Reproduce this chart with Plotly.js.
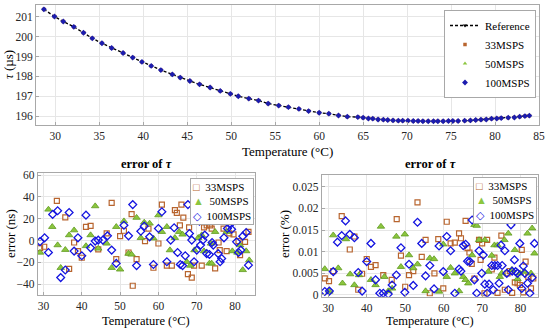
<!DOCTYPE html>
<html><head><meta charset="utf-8">
<script src="https://cdn.plot.ly/plotly-3.0.1.min.js"></script>
<style>html,body{margin:0;padding:0;background:#fff}#chart{width:550px;height:332px}</style>
</head><body><div id="chart"></div>
<script>
// ---- top chart: tau vs temperature ----
const tRef=[28.7,29.9,30.9,32.1,33.2,34.2,35.3,36.4,37.7,38.8,39.85,40.9,42.0,43.3,44.2,45.3,46.4,47.6,48.75,49.9,50.8,52.0,53.1,54.2,55.4,56.5,57.7,58.8,60.0,61.1,62.2,63.2,64.4,65.0,65.6,66.1,66.7,67.3,67.8,68.4,69.0,69.5,70.1,70.7,71.25,71.8,72.4,73.0,73.5,74.1,74.7,75.2,75.8,76.55,77.2,77.8,78.4,79.0,79.6,80.2,80.7,81.5,82.2,82.8,83.4,83.9];
const tau=[201.38,201.02,200.77,200.5,200.2,199.92,199.67,199.43,199.18,198.95,198.73,198.53,198.32,198.1,197.94,197.77,197.6,197.44,197.27,197.12,197.0,196.88,196.78,196.63,196.53,196.45,196.36,196.25,196.17,196.12,196.03,195.97,195.95,195.92,195.88,195.87,195.83,195.82,195.8,195.78,195.77,195.77,195.77,195.75,195.75,195.74,195.74,195.74,195.74,195.74,195.75,195.75,195.75,195.77,195.78,195.8,195.82,195.83,195.87,195.88,195.9,195.92,195.93,195.97,196.0,196.02];

// ---- error in ns ----
const t33n=[29.1,30.2,33.5,35.7,36.7,38,39,40,41.1,42.3,44.3,46.5,47.8,49,50,51,52.2,53,53.3,54.3,56.5,57.4,58.7,60,60.9,62.2,63.5,64.3,64.8,65.6,66,66.5,67.7,68,68.7,69.3,70,70.4,71.3,71.9,72.6,73.5,73.9,74.8,75.7,76,77,77.8,78.5,79.6,80,80.9,81.3,82.6,83.5];
const ns33=[-7,-5.7,36.5,21.2,-26,-1.8,-9.7,-15.8,12.6,13.5,-8.2,6.5,34.6,-17,4,9,-11,24.2,-41.5,-17,-0.5,11,-25,-2.7,33,-23,-23,28,25.4,14,33,21,-30.8,12,-34,-23,17,23,-23,12,14,14,11,-25.6,-1.8,-8.8,11,-9.7,6.5,5.6,20.9,-0.5,-13.4,-1.2,8];
const t50n=[29.1,31.3,32.3,33.7,34.5,35.7,36.7,38,41.1,42.3,43.5,44.3,46.5,47.8,49,50,51,52.2,53,54.3,55.4,56.3,57.7,58.7,60,60.9,62.2,63,64.3,65.4,66.3,67.4,68.3,69.4,70.4,71.3,71.9,72.4,73.3,73.7,73.9,74.8,76,76.5,77.8,78.7,79.3,80.6,81.3,82,82.9,83.7];
const ns50=[-11,28.5,12.6,-4.2,-25,-8.5,5,9.5,-5,5,31.6,-7.3,-2.7,-25,12.6,-26.5,17.8,-12,-12.8,21,2.5,16.6,15.7,2,23.3,8,12.6,-8.8,2.5,8,5.6,-19.5,-23,-8.8,2.5,5,-9.7,18.7,-21,-2.7,-21,8,23.3,18.7,8,20,-9.7,-11,-4.2,-27,-9.7,-18];
const t100n=[29.1,30.3,31.3,32.4,33.7,34.5,35.7,36.7,38,39,40,41.1,42.3,43.5,44.3,45.5,46.7,47.8,49,51,52.2,53.3,54.3,55.4,56.3,57.7,58.7,60,60.9,62.2,63.2,64.1,65,65.7,66.3,67,67.7,68.1,68.7,69.3,70,70.7,71,71.6,72.1,72.6,73.3,74,74.3,75,75.6,76.1,76.5,77.1,78,78.7,79.1,79.6,80.4,80.9,81.5,82,82.9,83.5];
const ns100=[-1,2.5,-11,24,27.3,-34,-27,25.7,-9.7,2.5,-14,23.3,-6.7,-0.5,0.4,0.4,4.3,-8.8,-21,14,4.3,33,-23,8.5,13.2,3.4,-22,11,26.4,-19.5,0.4,11.7,-11,-22,-23,-14,33,6.5,0.4,-19.5,-8.8,17.8,-4.2,0.4,5,-12,-12.8,-1.8,-4.2,21.8,-12,-19.5,-16.5,2.5,11,14.7,10.4,23.3,-1.2,-11,-8.8,4,7.4,-22.6];

// ---- error in % ----
const t33p=[29.1,30.2,31.3,33.5,35.6,36.8,37.8,38.8,40,41.1,42.3,44.3,46.5,47.8,48.9,50,51,52.1,53.2,54.3,55.3,56.4,57.6,58.6,59.9,60.8,61.8,62.9,64,64.5,65.7,66.2,66.7,67.3,68,68.6,69.2,69.6,70,70.6,71.3,72.5,73.2,74,75,75.9,76.6,77.2,77.8,78.5,79.2,79.8,80.3,80.7,81.3,82,82.7,83.3];
const pct33=[0.00385,0.0032,0.0055,0.0182,0.0105,0.0135,0.0012,0.0049,0.0083,0.0065,0.0069,0.0046,0.0035,0.0175,0.0091,0.0019,0.0046,0.0055,0.0214,0.0088,0.0127,0.0004,0.005,0.0129,0.0015,0.0169,0.0119,0.0121,0.0142,0.0131,0.0171,0.0108,0.0098,0.0072,0.0038,0.0181,0.0127,0.0081,0.0119,0.0004,0.0127,0.0059,0.0086,0.0005,0.0137,0.0012,0.005,0.0055,0.0005,0.0029,0.0027,0.0023,0.0104,0.0006,0.0077,0.0042,0.0015,0.0038];
const t50p=[29.1,30.3,31.3,32.6,33.7,34.6,35.7,36.8,38,41.1,42.3,43.7,44.6,45.6,46.6,47.7,48.9,49.9,51,52.1,53.2,55.3,56.4,57.5,58.8,59.9,60.8,61.8,62.9,64,65.1,65.7,66.4,67.4,68,68.6,69.2,70.7,71.6,72.5,73.2,74,74.6,75.1,75.8,76.8,77.7,78.5,79.2,79.8,80.9,81.8,82.7,83,83.6];
const pct50=[0.006,0.0008,0.0138,0.0062,0.0027,0.0129,0.0048,0.0023,0.0046,0.0035,0.0023,0.0158,0.0042,0.0009,0.0015,0.0135,0.0065,0.014,0.0092,0.0062,0.0071,0.0009,0.0085,0.0083,0.0008,0.0117,0.0042,0.0063,0.005,0.0009,0.0042,0.0035,0.0027,0.0092,0.0162,0.016,0.0127,0.0127,0.0054,0.0091,0.0115,0.0115,0.0042,0.005,0.0127,0.0142,0.0058,0.0104,0.0037,0.005,0.0054,0.0142,0.005,0.0154,0.0096];
const t100p=[29.1,30.3,31.3,32.4,33.5,34.5,35.6,36.8,37.8,38.8,40,41.1,42.3,43.4,44.3,45.6,46.6,47.7,48.9,49.9,51,52.1,53.2,54.3,55.3,56.4,57.5,58.8,59.9,60.8,61.8,62.9,64,64.5,65.1,65.7,66.2,66.8,67.4,68,68.6,69.2,69.9,70.3,70.7,71.3,71.8,72.5,72.9,73.3,74,74.4,74.9,75.2,75.9,76.4,76.8,77.5,77.8,78.4,78.7,79.2,79.8,80.3,80.7,81.1,81.8,82.4,83,83.6];
const pct100=[0.0008,0.0009,0.0054,0.0122,0.0137,0.0171,0.014,0.0132,0.0052,0.0009,0.0077,0.0119,0.0035,0.0004,0.0004,0.0002,0.0023,0.0046,0.0109,0.0006,0.0071,0.0022,0.0168,0.0119,0.0044,0.0068,0.0014,0.0113,0.0054,0.0135,0.0102,0.0004,0.006,0.0055,0.0114,0.0117,0.0078,0.0077,0.0173,0.0035,0.0004,0.0102,0.005,0.0092,0.0025,0.0004,0.0025,0.0068,0.0012,0.0068,0.0068,0.0027,0.0115,0.0068,0.0102,0.005,0.0012,0.0162,0.0055,0.0081,0.0054,0.005,0.0119,0.0015,0.0067,0.005,0.0027,0.0004,0.004,0.0119];

const seriesNames=['Reference','33MSPS','50MSPS','100MSPS'];
const pctTickVals=[0,0.005,0.01,0.015,0.02,0.025];
const pctTickText=['0','0.005','0.01','0.015','0.02','0.025'];

const FONT='Liberation Serif, serif';
const C33='#b8652f', C50='#8cc63f', C50L='#5f9a1f', C100='#1515e0', C100T='#1c1cae';

const base={showline:true,mirror:true,linecolor:'#a8a8a8',linewidth:1,showgrid:true,gridcolor:'#e6e6e6',gridwidth:1,
  ticks:'inside',ticklen:3,tickcolor:'#a8a8a8',zeroline:false,fixedrange:true,
  tickfont:{family:FONT,size:11.5,color:'#262626'}};

const traces=[
  {x:tRef,y:tau,name:seriesNames[0],mode:'lines+markers',xaxis:'x',yaxis:'y',legend:'legend',
   line:{color:'#000',width:1.3,dash:'3px,2px'},marker:{symbol:'triangle-down',size:4,color:'#000'}},
  {x:tRef,y:tau,name:seriesNames[1],mode:'markers',xaxis:'x',yaxis:'y',legend:'legend',
   marker:{symbol:'square',size:3.5,color:C33}},
  {x:tRef,y:tau,name:seriesNames[2],mode:'markers',xaxis:'x',yaxis:'y',legend:'legend',
   marker:{symbol:'triangle-up',size:4,color:C50}},
  {x:tRef,y:tau,name:seriesNames[3],mode:'markers',xaxis:'x',yaxis:'y',legend:'legend',
   marker:{symbol:'diamond',size:4.5,color:C100T}},

  {x:t33n,y:ns33,name:seriesNames[1],mode:'markers',xaxis:'x2',yaxis:'y2',showlegend:false,
   marker:{symbol:'square-open',size:5,color:C33,line:{width:1.2}}},
  {x:t50n,y:ns50,name:seriesNames[2],mode:'markers',xaxis:'x2',yaxis:'y2',showlegend:false,
   marker:{symbol:'triangle-up',size:6.5,color:C50,line:{color:C50L,width:0.8}}},
  {x:t100n,y:ns100,name:seriesNames[3],mode:'markers',xaxis:'x2',yaxis:'y2',showlegend:false,
   marker:{symbol:'diamond-open',size:6,color:C100,line:{width:1.3}}},

  {x:t33p,y:pct33,name:seriesNames[1],mode:'markers',xaxis:'x3',yaxis:'y3',showlegend:false,
   marker:{symbol:'square-open',size:5,color:C33,line:{width:1.2}}},
  {x:t50p,y:pct50,name:seriesNames[2],mode:'markers',xaxis:'x3',yaxis:'y3',showlegend:false,
   marker:{symbol:'triangle-up',size:6.5,color:C50,line:{color:C50L,width:0.8}}},
  {x:t100p,y:pct100,name:seriesNames[3],mode:'markers',xaxis:'x3',yaxis:'y3',showlegend:false,
   marker:{symbol:'diamond-open',size:6,color:C100,line:{width:1.3}}}
];

function legendText(){
  return '<span style="color:'+C33+'">□</span>  '+seriesNames[1]+'<br>'+
         '<span style="color:'+C50+'">▲</span>  '+seriesNames[2]+'<br>'+
         '<span style="color:'+C100+'">◇</span>  '+seriesNames[3];
}
const tf={family:FONT,size:13,color:'#000'};
const tfb={family:FONT,size:12.5,color:'#000'};
const layout={
  width:550,height:332,margin:{l:0,r:0,t:0,b:0},paper_bgcolor:'#fff',plot_bgcolor:'#fff',
  font:{family:FONT,color:'#000'},
  xaxis:Object.assign({},base,{domain:[36/550,539/550],range:[27.8,85],dtick:5,tick0:0,anchor:'y'}),
  yaxis:Object.assign({},base,{domain:[1-125/332,1-5/332],range:[195.55,201.6],dtick:1,tick0:0,anchor:'x'}),
  xaxis2:Object.assign({},base,{domain:[37.7/550,255/550],range:[28.5,85.2],dtick:10,tick0:0,anchor:'y2'}),
  yaxis2:Object.assign({},base,{domain:[1-295/332,1-173/332],range:[-50,62],dtick:20,tick0:0,anchor:'x2'}),
  xaxis3:Object.assign({},base,{domain:[321.7/550,538.3/550],range:[28.3,84.6],dtick:10,tick0:0,anchor:'y3'}),
  yaxis3:Object.assign({},base,{domain:[1-296.7/332,1-175/332],range:[-0.0004,0.0277],tickvals:pctTickVals,ticktext:pctTickText,anchor:'x3'}),
  legend:{x:536/550,xanchor:'right',y:1-10/332,yanchor:'top',bgcolor:'#fff',bordercolor:'#a8a8a8',borderwidth:1,
    font:{family:FONT,size:11,color:'#000'},tracegroupgap:0},
  annotations:[
    {text:'Temperature (°C)',xref:'paper',yref:'paper',x:287.5/550,y:1-152/332,xanchor:'center',yanchor:'middle',showarrow:false,font:tf},
    {text:'<i>τ</i> (µs)',xref:'paper',yref:'paper',x:8/550,y:1-65/332,xanchor:'center',yanchor:'middle',textangle:-90,showarrow:false,font:tf},
    {text:'<b>error of <i>τ</i></b>',xref:'paper',yref:'paper',x:146/550,y:1-164/332,xanchor:'center',yanchor:'middle',showarrow:false,font:tfb},
    {text:'<b>error of <i>τ</i></b>',xref:'paper',yref:'paper',x:430/550,y:1-164/332,xanchor:'center',yanchor:'middle',showarrow:false,font:tfb},
    {text:'Temperature (°C)',xref:'paper',yref:'paper',x:146/550,y:1-321/332,xanchor:'center',yanchor:'middle',showarrow:false,font:tfb},
    {text:'Temperature (°C)',xref:'paper',yref:'paper',x:430/550,y:1-321/332,xanchor:'center',yanchor:'middle',showarrow:false,font:tfb},
    {text:'error (ns)',xref:'paper',yref:'paper',x:10/550,y:1-234/332,xanchor:'center',yanchor:'middle',textangle:-90,showarrow:false,font:tf},
    {text:'error (%)',xref:'paper',yref:'paper',x:284/550,y:1-234/332,xanchor:'center',yanchor:'middle',textangle:-90,showarrow:false,font:tf},
    {text:legendText(),xref:'paper',yref:'paper',x:254/550,y:1-178/332,xanchor:'right',yanchor:'top',align:'left',showarrow:false,
     bgcolor:'#fff',bordercolor:'#a8a8a8',borderwidth:1,borderpad:2,font:{family:FONT,size:11,color:'#000'}},
    {text:legendText(),xref:'paper',yref:'paper',x:537/550,y:1-177/332,xanchor:'right',yanchor:'top',align:'left',showarrow:false,
     bgcolor:'#fff',bordercolor:'#a8a8a8',borderwidth:1,borderpad:2,font:{family:FONT,size:11,color:'#000'}}
  ]
};
Plotly.newPlot('chart',traces,layout,{displayModeBar:false,staticPlot:true});
</script></body></html>
